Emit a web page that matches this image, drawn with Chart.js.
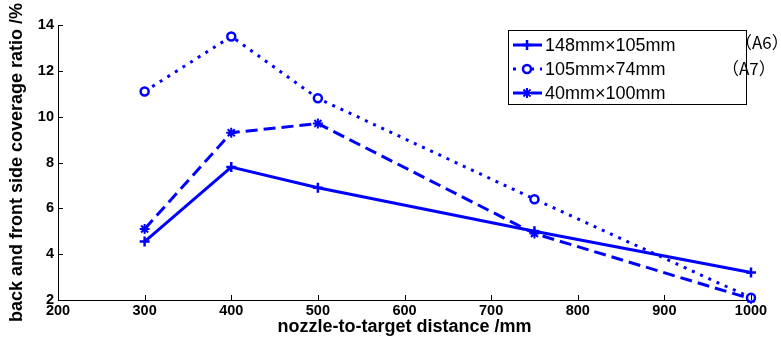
<!DOCTYPE html>
<html>
<head>
<meta charset="utf-8">
<script src="https://cdn.jsdelivr.net/npm/chart.js@4/dist/chart.umd.min.js"></script>
<style>
html,body{margin:0;padding:0;background:#fff;}
#wrap{width:781px;height:340px;position:relative;}
</style>
</head>
<body>
<div id="wrap"><canvas id="c" width="781" height="340"></canvas></div>
<script>
// ---- data ----
const distances = [300, 400, 500, 750, 1000];
const seriesNames = ['148mm×105mm', '105mm×74mm', '40mm×100mm'];
const seriesA6 = [4.55, 7.8, 6.9, 5.0, 3.2];
const seriesA7 = [11.1, 13.5, 10.8, 6.4, 2.1];
const series40x100 = [5.1, 9.3, 9.7, 4.9, 2.05];
const xTicks = [200, 300, 400, 500, 600, 700, 800, 900, 1000];
const yTicks = [2, 4, 6, 8, 10, 12, 14];
const sideNotes = ['（A6）', '（A7）'];

const BLUE = '#0000ff';
function pts(vals){ return distances.map((d,i)=>({x:d, y:vals[i]})); }

const datasets = [
  {label: seriesNames[0], data: pts(seriesA6), borderColor: BLUE, backgroundColor: BLUE,
   borderWidth: 3, borderDash: [], pointStyle: 'cross', pointRadius: 5, pointBorderWidth: 2.5,
   pointBorderColor: BLUE, pointBackgroundColor: BLUE, clip: false, tension: 0},
  {label: seriesNames[1], data: pts(seriesA7), borderColor: BLUE, backgroundColor: BLUE,
   borderWidth: 3, borderDash: [3, 6], pointStyle: 'circle', pointRadius: 4, pointBorderWidth: 2.5,
   pointBorderColor: BLUE, pointBackgroundColor: '#ffffff', clip: false, tension: 0},
  {label: seriesNames[2], data: pts(series40x100), borderColor: BLUE, backgroundColor: BLUE,
   borderWidth: 3, borderDash: [12, 6], pointStyle: 'star', pointRadius: 5, pointBorderWidth: 2,
   pointBorderColor: BLUE, pointBackgroundColor: BLUE, clip: false, tension: 0}
];

const inwardTicks = {
  id: 'inwardTicks',
  afterDraw(chart){
    const ctx = chart.ctx, a = chart.chartArea;
    const xs = chart.scales.x, ys = chart.scales.y;
    ctx.save();
    ctx.strokeStyle = '#000'; ctx.lineWidth = 1;
    ctx.beginPath();
    xTicks.forEach(v=>{ const px = Math.round(xs.getPixelForValue(v))+0.5; ctx.moveTo(px, a.bottom); ctx.lineTo(px, a.bottom-5); });
    yTicks.forEach(v=>{ const py = Math.round(ys.getPixelForValue(v))+0.5; ctx.moveTo(a.left, py); ctx.lineTo(a.left+5, py); });
    ctx.stroke();
    ctx.restore();
  }
};

const customLegend = {
  id: 'customLegend',
  afterDraw(chart){
    const ctx = chart.ctx;
    const bx = 508, by = 30, bw = 238, bh = 74;
    ctx.save();
    ctx.fillStyle = '#fff';
    ctx.fillRect(bx, by, bw, bh);
    ctx.strokeStyle = '#000'; ctx.lineWidth = 1;
    ctx.strokeRect(bx+0.5, by+0.5, bw, bh);
    const rows = [45, 69, 93];
    chart.data.datasets.forEach((ds, i)=>{
      const y = rows[i];
      ctx.save();
      ctx.strokeStyle = ds.borderColor; ctx.lineWidth = ds.borderWidth;
      ctx.setLineDash(ds.borderDash);
      ctx.beginPath(); ctx.moveTo(513, y); ctx.lineTo(542, y); ctx.stroke();
      ctx.setLineDash([]);
      ctx.fillStyle = ds.pointBackgroundColor; ctx.strokeStyle = ds.pointBorderColor;
      ctx.lineWidth = ds.pointBorderWidth;
      Chart.helpers.drawPoint(ctx, {pointStyle: ds.pointStyle, radius: ds.pointRadius, rotation: 0, borderWidth: ds.pointBorderWidth}, 527, y);
      ctx.restore();
      ctx.fillStyle = '#000';
      ctx.font = '18px "Liberation Sans", Arial, sans-serif';
      ctx.textBaseline = 'middle'; ctx.textAlign = 'left';
      ctx.fillText(ds.label, 545, y+1);
    });
    ctx.font = '17px "Noto Sans CJK SC", sans-serif';
    ctx.fillStyle = '#000';
    ctx.textBaseline = 'middle';
    ctx.fillText(sideNotes[0], 735, 43);
    ctx.fillText(sideNotes[1], 722, 69);
    ctx.restore();
  }
};

const tickFont = {family: '"Liberation Sans", Arial, sans-serif', size: 14.5, weight: 'bold'};
const titleFont = {family: '"Liberation Sans", Arial, sans-serif', size: 18, weight: 'bold'};

new Chart(document.getElementById('c'), {
  type: 'line',
  data: {datasets},
  plugins: [inwardTicks, customLegend],
  options: {
    responsive: false,
    animation: false,
    layout: {padding: {top: 25, right: 30, left: 0, bottom: 0}},
    plugins: {legend: {display: false}, tooltip: {enabled: false}},
    scales: {
      x: {
        type: 'linear', min: 200, max: 1000,
        afterBuildTicks(s){ s.ticks = xTicks.map(v=>({value:v})); },
        afterFit(s){ s.height = 40; },
        grid: {display: false, drawTicks: false},
        border: {display: true, color: '#000', width: 1},
        ticks: {color: '#000', padding: 2, maxRotation: 0, autoSkip: false, font: tickFont, callback: v => String(v)},
        title: {display: true, text: 'nozzle-to-target distance /mm', color: '#000', padding: {top: 0, bottom: 2}, font: titleFont}
      },
      y: {
        type: 'linear', min: 2, max: 14,
        afterBuildTicks(s){ s.ticks = yTicks.map(v=>({value:v})); },
        afterFit(s){ s.width = 58; },
        grid: {display: false, drawTicks: false},
        border: {display: true, color: '#000', width: 1},
        ticks: {color: '#000', padding: 4, font: tickFont, callback: v => String(v)},
        title: {display: true, text: 'back and front side coverage ratio /%', color: '#000', padding: {top: 6, bottom: 0}, font: titleFont}
      }
    }
  }
});
</script>
</body>
</html>
